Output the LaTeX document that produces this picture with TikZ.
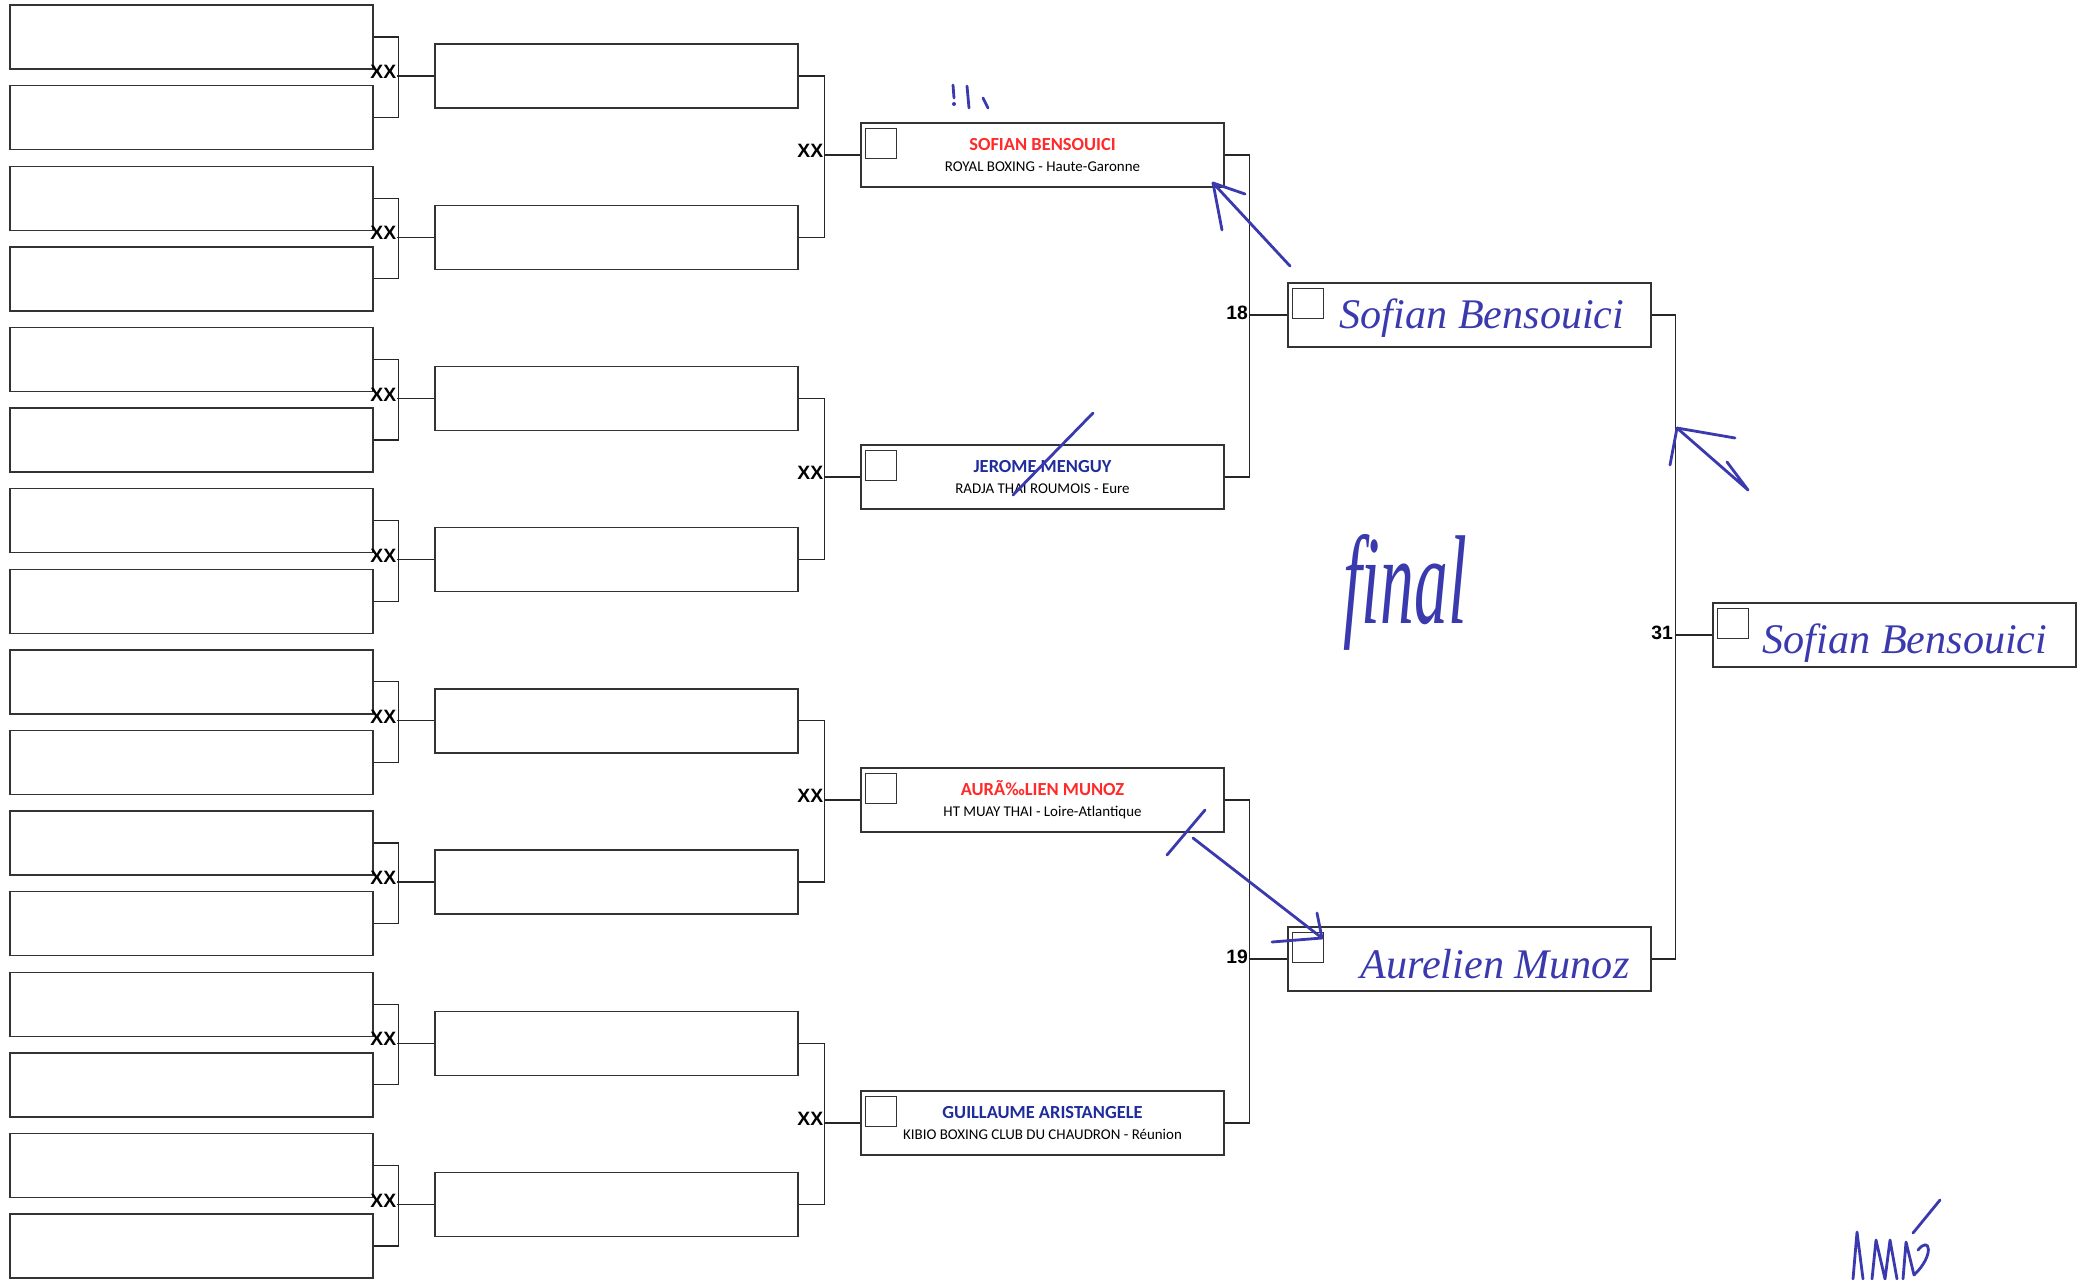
\documentclass[tikz,border=0pt]{standalone}
\usepackage{fontspec}
\setmainfont{Carlito}
\newfontfamily\handfont{Liberation Serif}
\newfontfamily\markfont{Liberation Sans}
\usetikzlibrary{calc}
\definecolor{namered}{HTML}{FF2A2A}
\definecolor{nameblue}{HTML}{1F2D9C}
\definecolor{ink}{HTML}{3A3AAE}
\newcommand\namesize{\fontsize{10.5}{12}\selectfont\bfseries}
\newcommand\clubsize{\fontsize{8.5}{12}\selectfont}
\tikzset{
  slot/.style={draw=black!80, line width=0.8pt, minimum width=7.26cm, minimum height=1.28cm, inner sep=0pt, align=center, font=\clubsize},
  tickbox/.style={draw=black!80, line width=0.6pt, minimum width=0.62cm, minimum height=0.6cm, inner sep=0pt},
  link/.style={draw=black!85, line width=0.75pt},
  xx/.style={font=\markfont\fontsize{11}{12}\selectfont\bfseries, anchor=base east, inner sep=0.3pt, yshift=-1.5pt},
  roundno/.style={font=\markfont\fontsize{11}{12}\selectfont\bfseries, anchor=east, inner sep=1pt, yshift=1.5pt},
  hand/.style={text=ink, anchor=base, font=\handfont\itshape\fontsize{24}{24}\selectfont},
  inkline/.style={draw=ink, line width=1.6pt, line cap=round, line join=round}
}
\begin{document}
\begin{tikzpicture}[x=0.02cm, y=-0.02cm]
\useasboundingbox (0,0) rectangle (2086,1279);
% first round, sixteen empty slots
\foreach \i in {0,...,15}
  \node[slot] (c1b\i) at (191.5, {37+80.6*\i}) {};
% second round
\foreach \j in {0,...,7}
  \node[slot] (c2b\j) at (616.5, {76+161.2*\j}) {};
% quarter finals
\node[slot] (c3b0) at (1042.5,155) {{\namesize\textcolor{namered}{SOFIAN BENSOUICI}}\\ROYAL BOXING - Haute-Garonne};
\node[slot] (c3b1) at (1042.5,477) {{\namesize\textcolor{nameblue}{JEROME MENGUY}}\\RADJA THAI ROUMOIS - Eure};
\node[slot] (c3b2) at (1042.5,800) {{\namesize\textcolor{namered}{AURÃ‰LIEN MUNOZ}}\\HT MUAY THAI - Loire-Atlantique};
\node[slot] (c3b3) at (1042.5,1123) {{\namesize\textcolor{nameblue}{GUILLAUME ARISTANGELE}}\\KIBIO BOXING CLUB DU CHAUDRON - Réunion};
% semi finals and final
\node[slot] (c4b0) at (1469.5,315) {};
\node[slot] (c4b1) at (1469.5,959) {};
\node[slot] (c5b0) at (1894.5,635) {};
\foreach \n in {c3b0,c3b1,c3b2,c3b3,c4b0,c4b1,c5b0}
  \node[tickbox] (t\n) at ([shift={(20.5,21)}]\n.north west) {};
% brackets
\foreach \k in {0,...,7} {
  \pgfmathtruncatemacro\a{2*\k}
  \pgfmathtruncatemacro\b{2*\k+1}
  \draw[link] (c1b\a.east) -- ++(25,0) |- (c1b\b.east);
  \draw[link] (c2b\k.west) -- ++(-37,0) node[xx] {XX};
}
\foreach \k in {0,...,3} {
  \pgfmathtruncatemacro\a{2*\k}
  \pgfmathtruncatemacro\b{2*\k+1}
  \draw[link] (c2b\a.east) -- ++(26,0) |- (c2b\b.east);
  \draw[link] (c3b\k.west) -- ++(-36,0) node[xx] {XX};
}
\draw[link] (c3b0.east) -- ++(25,0) |- (c3b1.east);
\draw[link] (c4b0.west) -- ++(-37,0) node[roundno] {18};
\draw[link] (c3b2.east) -- ++(25,0) |- (c3b3.east);
\draw[link] (c4b1.west) -- ++(-37,0) node[roundno] {19};
\draw[link] (c4b0.east) -- ++(24,0) |- (c4b1.east);
\draw[link] (c5b0.west) -- ++(-37,0) node[roundno] {31};
% handwriting
\node[hand] (w18) at (1482,328) {Sofian Bensouici};
\node[hand] (w19) at (1495,978) {Aurelien Munoz};
\node[hand] (w31) at (1905,653) {Sofian Bensouici};
\node[hand] (final) at (1405,623) {\scalebox{0.8}[1.5]{\fontsize{48}{48}\selectfont final}};
\draw[inkline] (1222,230) -- (1213,183) -- (1245,194);
\draw[inkline] (1213,183) -- (1290,266);
\draw[inkline] (1093,413) -- (1013,495);
\draw[inkline] (1205,810) -- (1167,855);
\draw[inkline] (1193,838) -- (1322,938);
\draw[inkline] (1317,913) -- (1322,938) -- (1272,942);
\draw[inkline] (1670,465) -- (1677,428) -- (1735,438);
\draw[inkline] (1677,428) -- (1748,490) -- (1727,462);
\draw[inkline] (953,85) -- (954,98);
\fill[ink] (954,104) circle (2);
\draw[inkline] (967,86) -- (969,108);
\draw[inkline] (983,98) -- (988,108);
\draw[inkline] (1853,1279) -- (1857,1232) -- (1863,1279);
\draw[inkline] (1872,1279) -- (1876,1240) -- (1885,1279) -- (1890,1240) -- (1897,1279);
\draw[inkline] (1903,1279) -- (1906,1242) -- (1914,1275) .. controls (1935,1255) and (1930,1235) .. (1918,1250);
\draw[inkline] (1913,1233) -- (1940,1200);
\end{tikzpicture}
\end{document}
